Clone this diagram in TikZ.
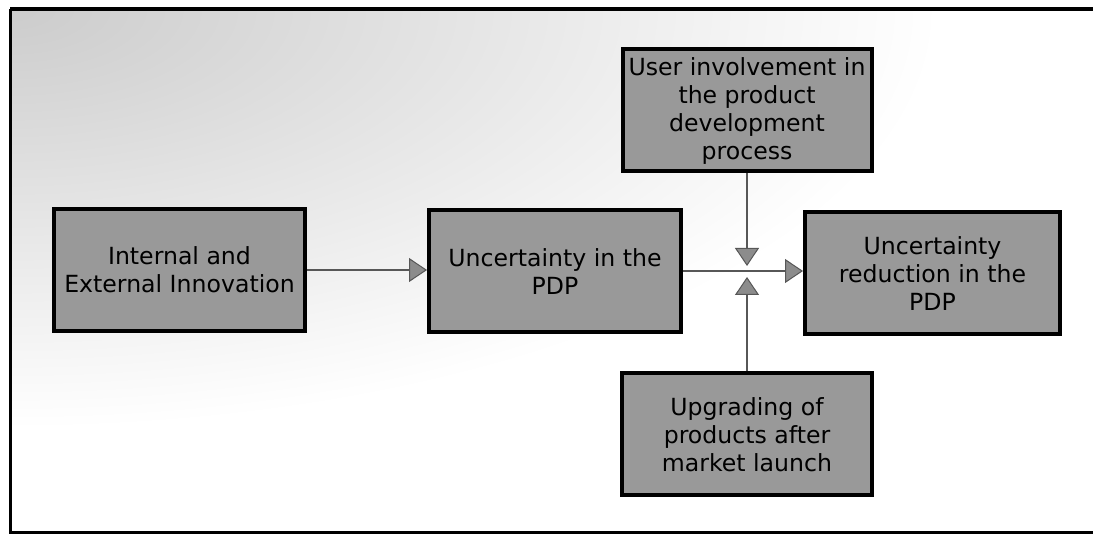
\documentclass[tikz,border=0pt]{standalone}
\usepackage{fontspec}
\setmainfont{DejaVu Sans}
\usetikzlibrary{arrows.meta}
\begin{document}
\begin{tikzpicture}[x=1pt,y=-1pt,
  procbox/.style={draw=black, line width=4pt, fill=black!40,
    minimum width=251pt, minimum height=122pt, inner sep=0pt,
    align=center, font=\fontsize{23.6}{28}\selectfont},
  flow/.style={draw=black!66, line width=2.8pt,
    -{Triangle[length=18pt,width=24pt,fill=black!45,line width=1pt]}},
  frameline/.style={draw=black, line width=3pt}]
\useasboundingbox (0,0) rectangle (1093,534);

% soft haze in the upper left corner of the panel
\begin{scope}
  \clip (10,9) rectangle (1093,532);
  \shade[inner color=black!20, outer color=white]
    (10,9) ellipse [x radius=930, y radius=420];
\end{scope}

% panel frame (open on the right)
\draw[frameline, line width=4pt] (10,9) -- (1093,9);
\draw[frameline] (10,9) -- (10,532) -- (1093,532);

% process boxes
\node[procbox] (inn) at (179.5,270) {Internal and\\External Innovation};
\node[procbox, minimum width=252pt] (unc) at (555,271.5) {Uncertainty in the\\PDP};
\node[procbox, minimum width=249pt] (usr) at (747,110.5)
  {User involvement in\\the product\\development\\process};
\node[procbox, minimum width=255pt] (red) at (932.5,273.5)
  {Uncertainty\\reduction in the\\PDP};
\node[procbox, minimum width=250pt] (upg) at (747,434.5)
  {Upgrading of\\products after\\market launch};

% junction points where the side influences meet the main flow
\coordinate (jtop) at (747,266);
\coordinate (jbot) at (747,277);

% connectors
\draw[flow] (inn.east) -- (inn.east -| unc.west);
\draw[flow] ([yshift=0.5pt]unc.east) -- ([yshift=0.5pt]unc.east -| red.west);
\draw[flow] (usr.south) -- (jtop);
\draw[flow] (upg.north) -- (jbot);
\end{tikzpicture}
\end{document}
